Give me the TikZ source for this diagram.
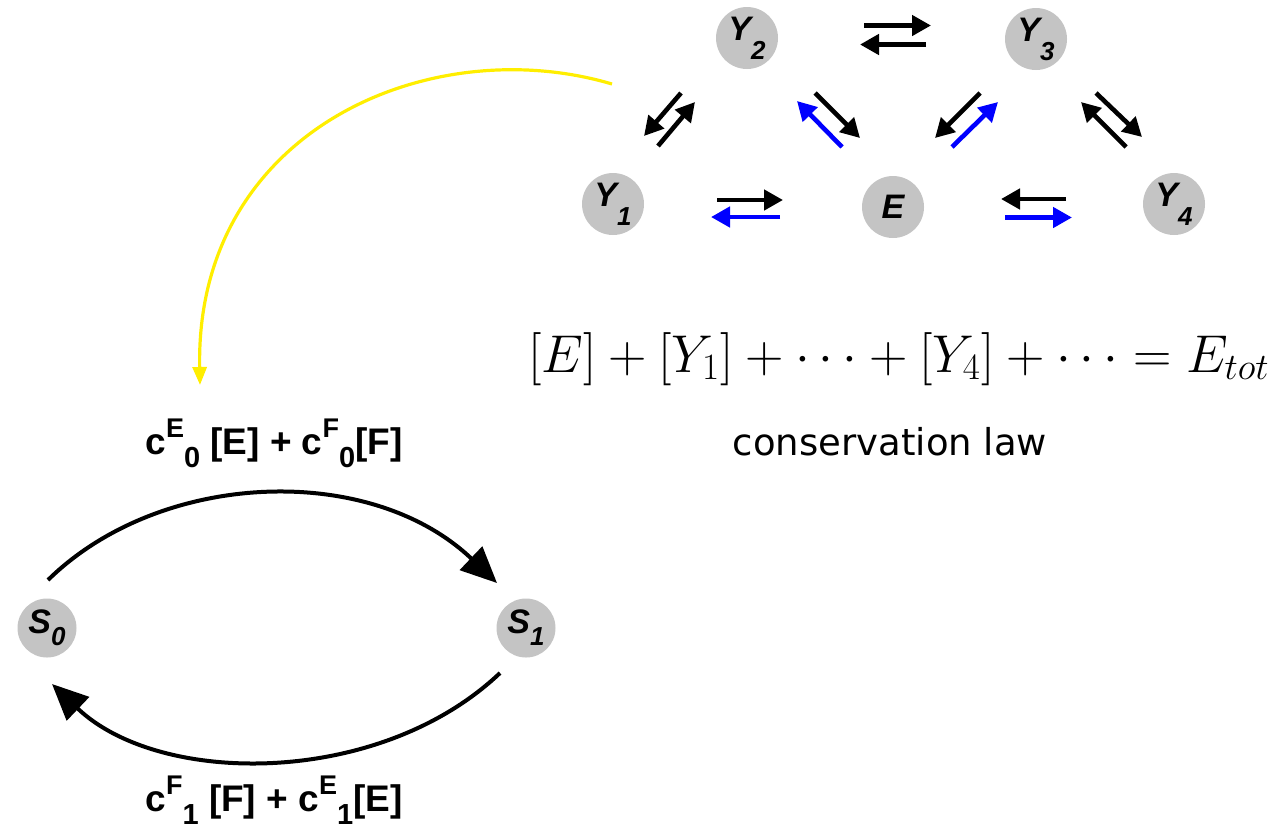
\RequirePackage{fix-cm}
\documentclass[tikz,border=0pt]{standalone}
\usepackage[no-math]{fontspec}
\newfontfamily\arialf{Liberation Sans}
\newfontfamily\dejavuf{DejaVu Sans}
\usetikzlibrary{arrows.meta,calc}
\definecolor{nodegray}{RGB}{196,196,196}
\definecolor{pureblue}{RGB}{0,0,255}
\definecolor{curveyellow}{RGB}{255,238,0}
\newcommand\molY[2]{{\fontsize{17pt}{18pt}\selectfont #1}\raisebox{-9.5pt}{\fontsize{13pt}{14pt}\selectfont #2}}
\newcommand\molS[2]{{\fontsize{17pt}{18pt}\selectfont #1}\raisebox{-6pt}{\fontsize{13pt}{14pt}\selectfont #2}}
\newcommand\rateC[2]{c\raisebox{8.5pt}{\fontsize{13.5pt}{14pt}\selectfont #1}\raisebox{-6.5pt}{\fontsize{14.5pt}{15pt}\selectfont #2}}
\begin{document}
\begin{tikzpicture}[x=0.5pt,y=-0.5pt,
  mol/.style={circle, fill=nodegray, inner sep=0pt, minimum size=31pt, font=\arialf\bfseries\itshape},
  smol/.style={mol, minimum size=29.5pt},
  pairarrow/.style={line width=2.3pt, -{Triangle[length=9.5pt,width=10pt]}},
  bluepair/.style={pairarrow, pureblue},
  bigarc/.style={line width=2pt, -{Triangle[length=18pt,width=16pt]}},
  yellowarrow/.style={line width=1.6pt, curveyellow, -{Triangle[length=9pt,width=7pt]}},
  ratelabel/.style={anchor=base, font=\arialf\bfseries\fontsize{18.5pt}{20pt}\selectfont}]
\useasboundingbox (0,0) rectangle (1284,831);

% molecule nodes
\node[mol] (Y2) at (747,38) {\molY{Y}{2}};
\node[mol] (Y3) at (1036,39) {\molY{Y}{3}};
\node[mol] (Y1) at (613,204) {\molY{Y}{1}};
\node[mol] (E) at (893,207) {{\fontsize{17pt}{18pt}\selectfont E}};
\node[mol] (Y4) at (1174,204) {\molY{Y}{4}};

% horizontal pairs
\draw[pairarrow] ($(Y2)+(117,-12.5)$) -- ($(Y3)+(-105,-13.5)$);
\draw[pairarrow] ($(Y3)+(-110,5.5)$) -- ($(Y2)+(113,6.5)$);
\draw[pairarrow] ($(Y1)+(104,-4)$) -- ($(E)+(-110,-7)$);
\draw[bluepair] ($(E)+(-113,10)$) -- ($(Y1)+(98,13)$);
\draw[pairarrow] ($(Y4)+(-108,-5)$) -- ($(E)+(108,-8)$);
\draw[bluepair] ($(E)+(112,10.5)$) -- ($(Y4)+(-102,13.5)$);

% diagonal pairs
\draw[pairarrow] ($(Y2)+(-66,55)$) -- ($(Y1)+(31,-68)$);
\draw[pairarrow] ($(Y1)+(45,-58)$) -- ($(Y2)+(-52,64)$);
\draw[bluepair] ($(E)+(-51,-60)$) -- ($(Y2)+(50,63)$);
\draw[pairarrow] ($(Y2)+(68,55)$) -- ($(E)+(-33,-69)$);
\draw[pairarrow] ($(Y3)+(-56,54)$) -- ($(E)+(42,-69)$);
\draw[bluepair] ($(E)+(59,-60)$) -- ($(Y3)+(-38,63)$);
\draw[pairarrow] ($(Y3)+(60,54)$) -- ($(Y4)+(-32,-67)$);
\draw[pairarrow] ($(Y4)+(-48,-57)$) -- ($(Y3)+(45,63)$);

% conservation law
\node[anchor=base] (eq) at (899,372) {\fontsize{26.6pt}{30pt}\selectfont$[E]+[Y_1]+\cdots+[Y_4]+\cdots=E_{tot}$};
\node[anchor=base, font=\dejavuf\fontsize{18.5pt}{20pt}\selectfont] (cl) at (890,455) {conservation law};

% switch
\node[smol] (S0) at (47,628) {\molS{S}{0}};
\node[smol] (S1) at (526,628) {\molS{S}{1}};
\node[ratelabel] (lab0) at (274,454) {\rateC{E}{0} [E] + \rateC{F}{0}[F]};
\node[ratelabel] (lab1) at (274,811) {\rateC{F}{1} [F] + \rateC{E}{1}[E]};
\draw[bigarc] ($(S0)+(1,-48)$) .. controls (160,470) and (370,462) .. ($(S1)+(-29,-45)$);
\draw[bigarc] ($(S1)+(-26,45)$) .. controls (380,787) and (160,787) .. ($(S0)+(5,56)$);

% yellow link
\coordinate (ys) at (612,84);
\coordinate (ye) at (200,385);
\draw[yellowarrow] (ys) .. controls (430,30) and (195,130) .. (ye);
\end{tikzpicture}
\end{document}
